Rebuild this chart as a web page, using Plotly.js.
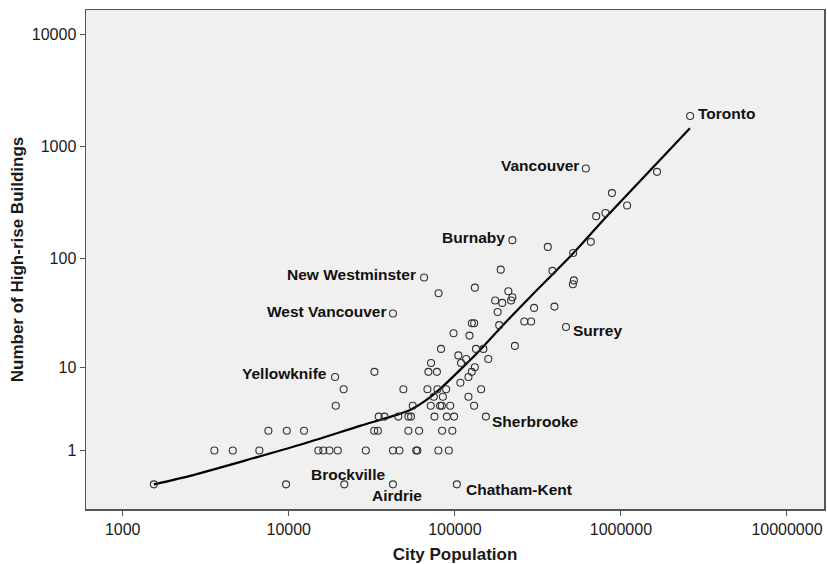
<!DOCTYPE html>
<html>
<head>
<meta charset="utf-8">
<script src="https://cdn.plot.ly/plotly-3.0.1.min.js"></script>
<style>
  html, body { margin: 0; padding: 0; background: #ffffff; }
  #chart { width: 827px; height: 564px; }
</style>
</head>
<body>
<div id="chart"></div>
<script>
// City population vs. number of high-rise buildings (one circle per city)
const population = [
  1540, 9630, 21600, 42400, 102800,
  3565, 4600, 6650, 15070, 16140, 17580, 19720, 29100, 42400, 46400, 58500, 59500, 79600, 92000,
  7540, 9730, 12360, 32700, 34400, 52500, 60900, 83800, 96600,
  34800, 37700, 45700, 52500, 54500, 75400, 89500, 99000, 153800,
  19200, 55800, 71600, 81500, 83500, 93800, 130600,
  74700, 84700, 120800,
  21400, 49000, 68400, 78600, 88600, 144000,
  108000,
  19000, 120800,
  32800, 69300, 78000, 126400,
  132000,
  71900, 109000,
  117000, 159000,
  105000,
  82600, 134000, 148600,
  230000, 122500, 98200, 467000, 185000,
  126600, 130700,
  262000, 288000,
  42400, 181000, 300000, 398000, 193000,
  175000, 218000,
  222000, 79800, 210000, 132000, 514000, 521000, 65300, 387000, 189000,
  516000, 363000, 659000, 222000, 710000, 807000, 1090000, 883000,
  1650000, 615000, 2610000
];
const buildings = [
  0, 0, 0, 0, 0,
  1, 1, 1, 1, 1, 1, 1, 1, 1, 1, 1, 1, 1, 1,
  2, 2, 2, 2, 2, 2, 2, 2, 2,
  3, 3, 3, 3, 3, 3, 3, 3, 3,
  4, 4, 4, 4, 4, 4, 4,
  5, 5, 5,
  6, 6, 6, 6, 6, 6,
  7,
  8, 8,
  9, 9, 9, 9,
  10,
  11, 11,
  12, 12,
  13,
  15, 15, 15,
  16, 20, 21, 24, 25,
  26, 26,
  27, 27,
  32, 33, 36, 37, 40,
  42, 42,
  45, 49, 51, 55, 59, 64, 68, 78, 80,
  113, 128, 142, 147, 241, 257, 300, 387,
  598, 641, 1880
];

// Smoothed fit curve
const trendPop = [1540, 2543, 11700, 26890, 40760, 53790, 66230, 81530, 107600, 142000, 205800, 284200, 518100, 804100, 2604000];
const trendBuildings = [0, 0.19, 1.25, 2.31, 2.98, 3.59, 4.52, 6.06, 9.41, 14.66, 27.3, 45.3, 112.7, 231.6, 1463];

// Named cities
const cityNames = ['Toronto', 'Vancouver', 'Burnaby', 'New Westminster', 'West Vancouver', 'Yellowknife',
                   'Surrey', 'Sherbrooke', 'Chatham-Kent', 'Brockville', 'Airdrie'];
const cityPop = [2610000, 615000, 222000, 65300, 42400, 19000, 467000, 153800, 102800, 21600, 42400];
const cityBuildings = [1880, 641, 147, 68, 32, 8, 24, 3, 0, 0, 0];

// Axis ticks
const xTicks = [1000, 10000, 100000, 1000000, 10000000];
const xTickText = ['1000', '10000', '100000', '1000000', '10000000'];
const yTicks = [1, 10, 100, 1000, 10000];
const yTickText = ['1', '10', '100', '1000', '10000'];

// Label placement around each named point
const labelPlacement = {
  'Toronto':         { xanchor: 'left',   yanchor: 'middle', xshift: 6,  yshift: 2 },
  'Vancouver':       { xanchor: 'right',  yanchor: 'middle', xshift: -5, yshift: 3 },
  'Burnaby':         { xanchor: 'right',  yanchor: 'middle', xshift: -5, yshift: 3 },
  'New Westminster': { xanchor: 'right',  yanchor: 'middle', xshift: -6, yshift: 3 },
  'West Vancouver':  { xanchor: 'right',  yanchor: 'middle', xshift: -5, yshift: 2 },
  'Yellowknife':     { xanchor: 'right',  yanchor: 'middle', xshift: -6, yshift: 3 },
  'Surrey':          { xanchor: 'left',   yanchor: 'middle', xshift: 5,  yshift: -3 },
  'Sherbrooke':      { xanchor: 'left',   yanchor: 'middle', xshift: 4,  yshift: -5 },
  'Chatham-Kent':    { xanchor: 'left',   yanchor: 'middle', xshift: 7,  yshift: -5 },
  'Brockville':      { xanchor: 'center', yanchor: 'middle', xshift: 4,  yshift: 10 },
  'Airdrie':         { xanchor: 'center', yanchor: 'middle', xshift: 4,  yshift: -11 }
};

// The count axis is log(count + 1) so that cities with zero buildings still appear
const shift = v => v + 1;

const FONT = '"Liberation Sans", Arial, Helvetica, sans-serif';

const points = {
  x: population,
  y: buildings.map(shift),
  customdata: buildings,
  type: 'scatter',
  mode: 'markers',
  marker: { symbol: 'circle-open', size: 7, color: '#333333', line: { width: 1.1 } },
  hovertemplate: 'Population: %{x}<br>Buildings: %{customdata}<extra></extra>',
  showlegend: false
};

const fit = {
  x: trendPop,
  y: trendBuildings.map(shift),
  type: 'scatter',
  mode: 'lines',
  line: { color: '#000000', width: 2.2, shape: 'spline', smoothing: 0.6 },
  hoverinfo: 'skip',
  showlegend: false
};

const annotations = cityNames.map((name, i) => Object.assign({
  x: Math.log10(cityPop[i]),
  y: Math.log10(shift(cityBuildings[i])),
  xref: 'x', yref: 'y',
  text: '<b>' + name + '</b>',
  showarrow: false,
  font: { family: FONT, size: 15.5, color: '#111111' }
}, labelPlacement[name]));

const axisCommon = {
  type: 'log',
  showgrid: false,
  zeroline: false,
  showline: true,
  mirror: true,
  linecolor: '#555555',
  linewidth: 1.5,
  ticks: 'outside',
  ticklen: 5,
  tickwidth: 1,
  tickcolor: '#555555',
  tickfont: { family: FONT, size: 16, color: '#1a1a1a' },
  tickmode: 'array'
};

const layout = {
  width: 827,
  height: 564,
  margin: { l: 86, r: 3, t: 10, b: 55, pad: 0 },
  paper_bgcolor: '#ffffff',
  plot_bgcolor: '#f0f0f0',
  font: { family: FONT, color: '#1a1a1a' },
  xaxis: Object.assign({}, axisCommon, {
    range: [2.779, 7.223],
    tickvals: xTicks,
    ticktext: xTickText,
    title: { text: '<b>City Population</b>', font: { family: FONT, size: 17, color: '#1a1a1a' }, standoff: 11 }
  }),
  yaxis: Object.assign({}, axisCommon, {
    range: [-0.219, 4.216],
    tickvals: yTicks.map(shift),
    ticktext: yTickText,
    title: { text: '<b>Number of High-rise Buildings</b>', font: { family: FONT, size: 17, color: '#1a1a1a' }, standoff: 4 }
  }),
  annotations: annotations
};

Plotly.newPlot('chart', [fit, points], layout, { displayModeBar: false, staticPlot: true });
</script>
</body>
</html>
